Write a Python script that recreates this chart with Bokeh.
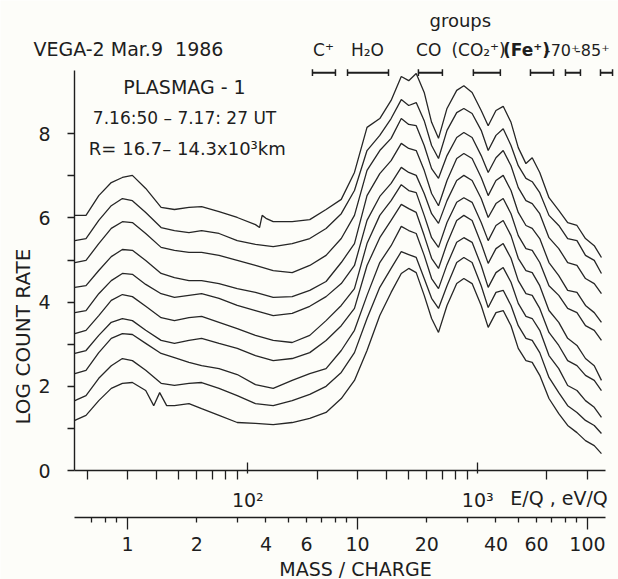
from bokeh.plotting import figure
from bokeh.models import Range1d, LogScale, LogAxis, FixedTicker, Label
from bokeh.embed import file_html
from bokeh.resources import INLINE

# ---------------- data ----------------
mass_grid = [0.59, 0.66, 0.75, 0.85, 0.95, 1.05, 1.2, 1.4, 1.6, 1.85, 2.1, 2.5, 3.0, 3.6,
             4.3, 5.2, 6.2, 7.3, 8.5, 9.7, 11, 12.5, 14, 15.5, 16.7, 18, 19.5, 21, 22.5,
             24.5, 27, 29, 31.5, 34.5, 37, 40, 43, 46.5, 50, 54, 57.5, 62, 68, 75, 82,
             90, 98, 107, 115]

mass_c1 = [0.59, 0.66, 0.75, 0.85, 0.95, 1.05, 1.2, 1.4, 1.6, 1.85, 2.1, 2.5, 3.0, 3.6,
           3.75, 3.85, 4.0, 4.3, 5.2, 6.2, 7.3, 8.5, 9.7, 11, 12.5, 14, 15.5, 16.7, 18, 19.5,
           21, 22.5, 24.5, 27, 29, 31.5, 34.5, 37, 40, 43, 46.5, 50, 54, 57.5, 62, 68, 75,
           82, 90, 98, 107, 115]
c1 = [6.06, 6.06, 6.53, 6.84, 6.96, 7.01, 6.70, 6.25, 6.20, 6.25, 6.27, 6.15, 6.01, 5.84,
      5.77, 6.06, 5.99, 5.91, 5.91, 5.96, 6.20, 6.44, 7.08, 8.15, 8.36, 8.79, 9.36, 9.26,
      9.43, 8.98, 8.27, 7.89, 8.60, 9.03, 9.14, 8.98, 8.55, 8.19, 8.55, 8.65, 8.27, 7.67,
      7.29, 7.43, 7.08, 6.48, 6.18, 5.89, 5.82, 5.51, 5.34, 5.06]
c2 = [5.46, 5.51, 5.94, 6.29, 6.46, 6.41, 6.13, 5.77, 5.70, 5.65, 5.70, 5.63, 5.46, 5.37,
      5.32, 5.39, 5.51, 5.75, 6.10, 6.65, 7.60, 7.96, 8.36, 8.81, 8.67, 8.74, 8.31, 7.72,
      7.41, 8.08, 8.50, 8.60, 8.48, 8.08, 7.60, 7.96, 8.12, 7.72, 7.24, 6.94, 6.86, 6.60,
      6.06, 5.82, 5.51, 5.46, 5.11, 4.99, 4.68]
c3 = [4.94, 4.99, 5.39, 5.75, 5.91, 5.89, 5.63, 5.30, 5.23, 5.18, 5.18, 5.11, 4.99, 4.87,
      4.75, 4.70, 4.87, 5.11, 5.51, 6.06, 7.13, 7.60, 7.89, 8.36, 8.22, 8.19, 7.72, 7.17,
      6.94, 7.48, 7.91, 8.03, 7.91, 7.48, 7.08, 7.43, 7.60, 7.24, 6.72, 6.41, 6.34, 6.10,
      5.53, 5.27, 4.94, 4.87, 4.56, 4.44, 4.20]
c4 = [4.35, 4.39, 4.75, 5.08, 5.25, 5.23, 4.99, 4.68, 4.58, 4.51, 4.51, 4.44, 4.32, 4.23,
      4.11, 4.13, 4.28, 4.49, 4.94, 5.39, 6.53, 7.05, 7.36, 7.77, 7.65, 7.60, 7.13, 6.58,
      6.29, 6.89, 7.41, 7.53, 7.41, 6.96, 6.53, 6.89, 7.01, 6.65, 6.13, 5.82, 5.75, 5.51,
      4.94, 4.63, 4.28, 4.23, 3.92, 3.75, 3.52]
c5 = [3.75, 3.80, 4.20, 4.51, 4.68, 4.66, 4.42, 4.20, 4.11, 4.16, 4.20, 4.09, 3.92, 3.80,
      3.68, 3.73, 3.90, 4.13, 4.44, 4.87, 5.94, 6.51, 6.82, 7.20, 7.08, 7.01, 6.58, 6.10,
      5.87, 6.41, 6.89, 7.01, 6.89, 6.46, 6.01, 6.34, 6.46, 6.10, 5.58, 5.27, 5.23, 4.94,
      4.39, 4.16, 3.85, 3.75, 3.44, 3.33, 3.09]
c6 = [3.25, 3.33, 3.68, 4.04, 4.18, 4.13, 3.90, 3.63, 3.56, 3.63, 3.66, 3.52, 3.37, 3.21,
      3.09, 3.04, 3.21, 3.56, 3.92, 4.32, 5.39, 6.06, 6.41, 6.79, 6.65, 6.60, 6.06, 5.53,
      5.30, 5.89, 6.37, 6.48, 6.37, 5.89, 5.46, 5.82, 5.94, 5.58, 5.04, 4.75, 4.70, 4.39,
      3.80, 3.52, 3.14, 2.97, 2.66, 2.49, 2.14]
c7 = [2.78, 2.85, 3.21, 3.52, 3.61, 3.56, 3.33, 3.09, 3.02, 3.09, 3.14, 3.02, 2.90, 2.73,
      2.61, 2.66, 2.80, 3.09, 3.44, 3.85, 4.87, 5.53, 5.94, 6.32, 6.22, 6.13, 5.58, 5.04,
      4.80, 5.39, 5.94, 6.06, 5.94, 5.39, 4.92, 5.27, 5.39, 5.04, 4.51, 4.20, 4.16, 3.85,
      3.28, 2.97, 2.61, 2.49, 2.26, 2.14, 1.90]
c8 = [2.30, 2.38, 2.80, 3.14, 3.25, 3.23, 3.02, 2.78, 2.68, 2.57, 2.49, 2.42, 2.28, 2.04,
      1.95, 2.14, 2.30, 2.42, 2.85, 3.33, 4.16, 4.94, 5.34, 5.80, 5.70, 5.63, 5.11, 4.56,
      4.32, 4.89, 5.42, 5.53, 5.42, 4.87, 4.35, 4.70, 4.82, 4.47, 3.97, 3.66, 3.61, 3.33,
      2.73, 2.42, 2.02, 1.90, 1.66, 1.50, 1.26]
c9 = [1.66, 1.78, 2.19, 2.49, 2.66, 2.61, 2.38, 2.07, 2.02, 2.07, 2.09, 1.95, 1.78, 1.59,
      1.54, 1.66, 1.81, 2.00, 2.33, 2.80, 3.61, 4.35, 4.80, 5.20, 5.13, 5.06, 4.56, 4.09,
      3.85, 4.39, 4.94, 5.06, 4.94, 4.39, 3.87, 4.23, 4.28, 3.92, 3.44, 3.14, 3.09, 2.80,
      2.21, 1.85, 1.54, 1.38, 1.19, 1.07, 0.88]
mass_c10 = [0.59, 0.66, 0.75, 0.85, 0.95, 1.05, 1.2, 1.3, 1.38, 1.48, 1.6, 1.85, 2.1, 2.5,
            3.0, 3.6, 4.3, 5.2, 6.2, 7.3, 8.5, 9.7, 11, 12.5, 14, 15.5, 16.7, 18, 19.5, 21,
            22.5, 24.5, 27, 29, 31.5, 34.5, 37, 40, 43, 46.5, 50, 54, 57.5, 62, 68, 75, 82,
            90, 98, 107, 115]
c10 = [1.19, 1.31, 1.66, 1.95, 2.07, 2.09, 1.90, 1.54, 1.85, 1.54, 1.54, 1.59, 1.47, 1.31,
       1.14, 1.12, 1.09, 1.14, 1.24, 1.38, 1.71, 2.14, 2.85, 3.68, 4.23, 4.68, 4.80, 4.70,
       4.16, 3.61, 3.28, 3.92, 4.44, 4.56, 4.44, 3.92, 3.40, 3.75, 3.80, 3.44, 2.90, 2.61,
       2.57, 2.26, 1.71, 1.35, 1.07, 0.90, 0.71, 0.59, 0.40]

# ion groups: bar extents (mass/charge axis units) and labels
group_start = [6.37, 9.05, 18.4, 31.9, 56.5, 80.2, 113.9]
group_end = [8.02, 13.64, 23.4, 41.8, 71.2, 93.2, 128.5]
group_names = ["C\u207a", "H\u2082O", "CO", "(CO\u2082\u207a)", "(Fe\u207a)", "-70\u207a", "-85\u207a"]
group_label_x = [7.11, 11.05, 20.4, 33.6, 54.3, 77.6, 105.0]

# axis ticks
y_major = [0, 2, 4, 6, 8]
y_minor = [1, 3, 5, 7]
eq_major = [100, 1000]
eq_minor = [20, 30, 40, 50, 60, 70, 80, 90, 200, 300, 400, 500, 600, 700, 800, 900, 2000, 3000]
eq_labels = {100: "10\u00b2", 1000: "10\u00b3"}
mass_major = [1, 10, 100]
mass_minor = [0.7, 0.8, 0.9, 2, 3, 4, 5, 6, 7, 8, 9, 20, 30, 40, 50, 60, 70, 80, 90]
mass_extra_labels = [2, 4, 6, 20, 40, 60]

# ---------------- figure ----------------
FONT = "DejaVu Sans"
INK = "#1e1e1e"
BG = "#fdfdf9"

# the frame fills the whole canvas; axes are pinned inside it with fixed_location
p = figure(width=618, height=579, x_axis_type="log", x_axis_location=None,
           x_range=Range1d(0.2804, 136.4), y_range=Range1d(-2.589, 11.164),
           toolbar_location=None, output_backend="svg",
           min_border_left=0, min_border_right=0, min_border_top=0, min_border_bottom=0,
           background_fill_color=BG, border_fill_color=BG)
p.outline_line_color = None
p.grid.visible = False
p.extra_x_ranges = {"eq": Range1d(8.41, 4092)}
p.extra_x_scales = {"eq": LogScale()}

# y axis
ya = p.yaxis[0]
ya.ticker = FixedTicker(ticks=y_major, minor_ticks=y_minor)
ya.bounds = (0, 9.5)
ya.fixed_location = 0.588
ya.major_tick_out = 7
ya.major_tick_in = 0
ya.minor_tick_out = 7
ya.minor_tick_in = 0
ya.major_label_standoff = 17

# E/Q axis
eq_axis = LogAxis(x_range_name="eq", ticker=FixedTicker(ticks=eq_major, minor_ticks=eq_minor),
                  major_label_overrides=eq_labels, bounds=(17.64, 3591), fixed_location=0)
eq_axis.major_tick_in = 8
eq_axis.major_tick_out = 3
eq_axis.minor_tick_in = 0
eq_axis.minor_tick_out = 9
eq_axis.major_label_standoff = 9

# mass/charge axis
m_axis = LogAxis(ticker=FixedTicker(ticks=mass_major, minor_ticks=mass_minor),
                 major_label_overrides={1: "1", 10: "10", 100: "100"},
                 bounds=(0.588, 119.7), fixed_location=-1.116)
m_axis.major_tick_in = 0
m_axis.major_tick_out = 12
m_axis.minor_tick_in = 0
m_axis.minor_tick_out = 5
m_axis.major_label_standoff = 8

for ax in [ya, eq_axis, m_axis]:
    ax.axis_line_color = INK
    ax.axis_line_width = 1.4
    ax.major_tick_line_color = INK
    ax.minor_tick_line_color = INK
    ax.major_tick_line_width = 1.3
    ax.minor_tick_line_width = 1.3
    ax.major_label_text_font = FONT
    ax.major_label_text_font_size = "19px"
    ax.major_label_text_color = INK
p.add_layout(eq_axis, "below")
p.add_layout(m_axis, "below")

# spectra
p.line(mass_c1, c1, line_color="#262626", line_width=1.3)
for c in [c2, c3, c4, c5, c6, c7, c8, c9]:
    p.line(mass_grid, c, line_color="#262626", line_width=1.3)
p.line(mass_c10, c10, line_color="#262626", line_width=1.3)

# group bars
bar_y = 9.45
cap = 0.08
p.segment(x0=group_start, y0=[bar_y] * 7, x1=group_end, y1=[bar_y] * 7,
          line_color=INK, line_width=2)
p.segment(x0=group_start, y0=[bar_y - cap] * 7, x1=group_start, y1=[bar_y + cap] * 7,
          line_color=INK, line_width=1.5)
p.segment(x0=group_end, y0=[bar_y - cap] * 7, x1=group_end, y1=[bar_y + cap] * 7,
          line_color=INK, line_width=1.5)

def lab(x, y, t, size="19px", align="center", angle=0, style="normal", baseline="middle"):
    p.add_layout(Label(x=x, y=y, text=t, text_font=FONT, text_font_size=size,
                       text_color=INK, text_align=align, text_baseline=baseline,
                       angle=angle, text_font_style=style))

for name, gx in zip(group_names, group_label_x):
    size = "16px" if name.startswith("-") else "17px"
    lab(gx, 9.98, name, size=size, style="bold" if "Fe" in name else "normal")
lab(28.0, 10.69, "groups", size="18px")

lab(0.390, 10.02, "VEGA-2 Mar.9\u00a0\u00a01986", size="19px", align="left")
lab(1.77, 9.10, "PLASMAG - 1", size="19px")
lab(1.77, 8.38, "7.16:50 \u2013 7.17: 27 UT", size="17px")
lab(1.82, 7.65, "R= 16.7\u2013 14.3x10\u00b3km", size="18px")

lab(0.353, 3.18, "LOG COUNT RATE", size="20px", angle=1.5708)

lab(75.2, -0.665, "E/Q , eV/Q", size="19px")
for m in mass_extra_labels:
    lab(m, -1.734, str(m), size="19px")
lab(9.8, -2.35, "MASS / CHARGE", size="19px")

open("out.html", "w").write(file_html(p, INLINE))
